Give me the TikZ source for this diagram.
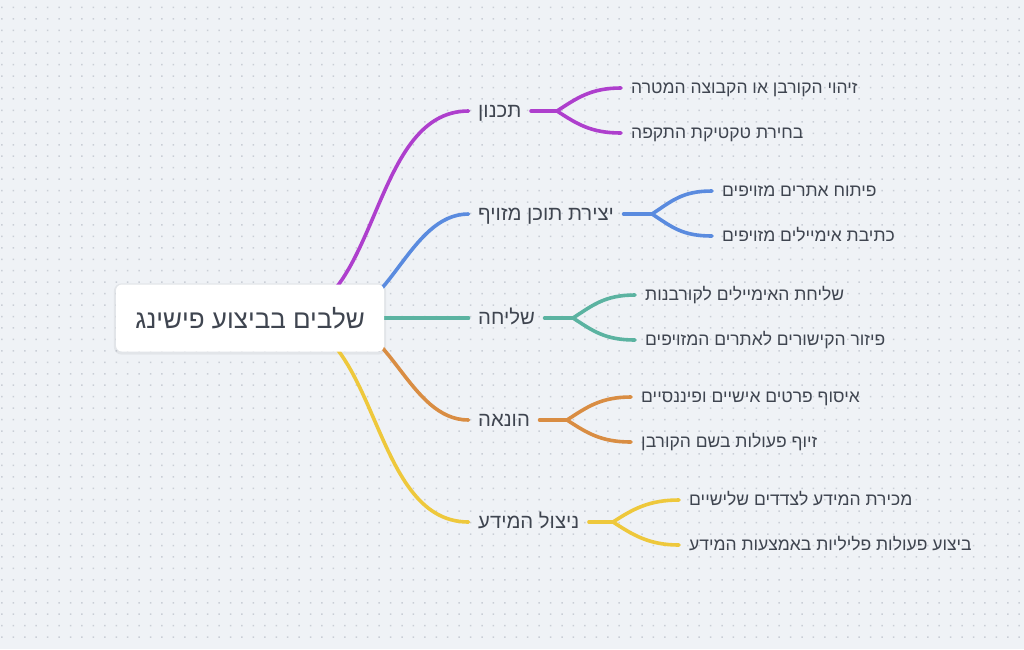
\documentclass[tikz,border=0pt]{standalone}
\usepackage{fontspec}
\newfontfamily\hebfont[Script=Hebrew]{Liberation Sans}
\TeXXeTstate=1
\usetikzlibrary{calc}
\definecolor{bgc}{HTML}{EFF2F6}
\definecolor{dotc}{HTML}{C9CED6}
\definecolor{txt}{HTML}{3F4550}
\definecolor{cpur}{HTML}{AE3FCD}
\definecolor{cblu}{HTML}{5A8BDF}
\definecolor{ctea}{HTML}{5BB3A1}
\definecolor{cora}{HTML}{D98D43}
\definecolor{cyel}{HTML}{EEC83C}
\pgfdeclarelayer{bgl}
\pgfdeclarelayer{edges}
\pgfsetlayers{bgl,edges,main}
\begin{document}
\begin{tikzpicture}[x=1pt,y=-1pt,
  conn/.style={line width=3.6pt, line cap=round},
  rootbox/.style={fill=white, rounded corners=6pt, minimum width=268pt, minimum height=67pt, inner sep=0pt, text=txt, font=\hebfont\fontsize{26}{31}\selectfont},
  branch/.style={anchor=west, inner xsep=9.5pt, inner ysep=0pt, text height=13.6pt, text depth=0pt, text=txt, font=\hebfont\fontsize{20.3}{24}\selectfont},
  leaf/.style={anchor=west, inner xsep=10pt, inner ysep=0pt, text height=11.8pt, text depth=0pt, text=txt, font=\hebfont\fontsize{17.5}{21}\selectfont}]
\useasboundingbox (0,0) rectangle (1024,649);
\begin{pgfonlayer}{bgl}
\fill[bgc] (0,0) rectangle (1024,649);
\fill[dotc] \foreach \i in {0,...,89} { \foreach \j in {0,...,55} { ({1.2+11.43*\i},{6.6+11.45*\j}) rectangle ++(1.5,1.5) } };
\end{pgfonlayer}

% root
\node[rootbox] (root) at (250,318) {\beginR שלבים בביצוע פישינג\endR};
\begin{pgfonlayer}{bgl}
\fill[black,opacity=0.05,rounded corners=8pt] ($(root.south west)+(-2,3)$) rectangle ($(root.north east)+(2,-1)$);
\end{pgfonlayer}

% branches
\node[branch] (b1) at (468.5,111) {\beginR תכנון\endR};
\node[branch] (b2) at (468.5,214) {\beginR יצירת תוכן מזויף\endR};
\node[branch] (b3) at (468.5,318) {\beginR שליחה\endR};
\node[branch] (b4) at (468.5,420) {\beginR הונאה\endR};
\node[branch] (b5) at (468.5,522) {\beginR ניצול המידע\endR};

% forks
\coordinate (f1) at (557,111);
\coordinate (f2) at (652,214);
\coordinate (f3) at (573,318);
\coordinate (f4) at (567,420);
\coordinate (f5) at (613,522);

% leaves
\node[leaf] (l11) at (621,88)  {\beginR זיהוי הקורבן או הקבוצה המטרה\endR};
\node[leaf] (l12) at (621,133) {\beginR בחירת טקטיקת התקפה\endR};
\node[leaf] (l21) at (712,191) {\beginR פיתוח אתרים מזויפים\endR};
\node[leaf] (l22) at (712,236) {\beginR כתיבת אימיילים מזויפים\endR};
\node[leaf] (l31) at (635,295) {\beginR שליחת האימיילים לקורבנות\endR};
\node[leaf] (l32) at (635,340) {\beginR פיזור הקישורים לאתרים המזויפים\endR};
\node[leaf] (l41) at (631,397) {\beginR איסוף פרטים אישיים ופיננסיים\endR};
\node[leaf] (l42) at (631,442) {\beginR זיוף פעולות בשם הקורבן\endR};
\node[leaf] (l51) at (679,500) {\beginR מכירת המידע לצדדים שלישיים\endR};
\node[leaf] (l52) at (679,545) {\beginR ביצוע פעולות פליליות באמצעות המידע\endR};

\begin{pgfonlayer}{edges}
% root to branches
\draw[conn,cpur] ($(root.east)+(-104,0)$) .. controls +(100,0) and +(-100,0) .. (b1.west);
\draw[conn,cblu] ($(root.east)+(-54,0)$) .. controls +(60,0) and +(-60,0) .. (b2.west);
\draw[conn,ctea] (root.center) -- (b3.west);
\draw[conn,cora] ($(root.east)+(-54,0)$) .. controls +(60,0) and +(-60,0) .. (b4.west);
\draw[conn,cyel] ($(root.east)+(-104,0)$) .. controls +(100,0) and +(-100,0) .. (b5.west);
% branch to leaves
\draw[conn,cpur] (b1.east) -- (f1);
\draw[conn,cpur] (f1) .. controls +(20,-13) and +(-30,0) .. (l11.west);
\draw[conn,cpur] (f1) .. controls +(20,13) and +(-30,0) .. (l12.west);
\draw[conn,cblu] (b2.east) -- (f2);
\draw[conn,cblu] (f2) .. controls +(20,-13) and +(-30,0) .. (l21.west);
\draw[conn,cblu] (f2) .. controls +(20,13) and +(-30,0) .. (l22.west);
\draw[conn,ctea] (b3.east) -- (f3);
\draw[conn,ctea] (f3) .. controls +(20,-13) and +(-30,0) .. (l31.west);
\draw[conn,ctea] (f3) .. controls +(20,13) and +(-30,0) .. (l32.west);
\draw[conn,cora] (b4.east) -- (f4);
\draw[conn,cora] (f4) .. controls +(20,-13) and +(-30,0) .. (l41.west);
\draw[conn,cora] (f4) .. controls +(20,13) and +(-30,0) .. (l42.west);
\draw[conn,cyel] (b5.east) -- (f5);
\draw[conn,cyel] (f5) .. controls +(20,-13) and +(-30,0) .. (l51.west);
\draw[conn,cyel] (f5) .. controls +(20,13) and +(-30,0) .. (l52.west);
\end{pgfonlayer}
\end{tikzpicture}
\end{document}
